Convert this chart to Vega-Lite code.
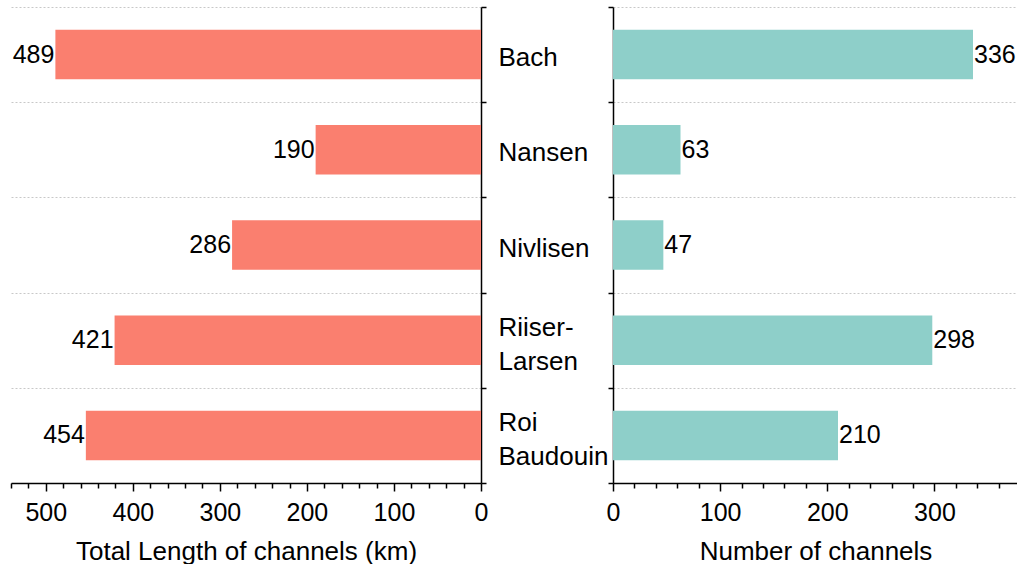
{
  "$schema": "https://vega.github.io/schema/vega-lite/v6.json",
  "padding": {"left": 10, "top": -6, "right": 0, "bottom": 0},
  "background": "white",
  "data": {"values": [
    {"shelf": "Bach", "length": 489, "count": 336},
    {"shelf": "Nansen", "length": 190, "count": 63},
    {"shelf": "Nivlisen", "length": 286, "count": 47},
    {"shelf": "Riiser-Larsen", "length": 421, "count": 298},
    {"shelf": "Roi Baudouin", "length": 454, "count": 210}
  ]},
  "spacing": 132,
  "bounds": "flush",
  "config": {
    "view": {"stroke": null},
    "font": "Liberation Sans",
    "axis": {
      "domainColor": "black", "domainWidth": 1.5,
      "tickColor": "black", "tickWidth": 1.5,
      "labelColor": "black", "labelFont": "Liberation Sans", "labelFontSize": 25,
      "titleColor": "black", "titleFont": "Liberation Sans", "titleFontSize": 26, "titleFontWeight": "normal",
      "gridColor": "#c8c8c8", "gridDash": [2, 2], "gridWidth": 1
    }
  },
  "hconcat": [
    {
      "width": 470, "height": 476,
      "encoding": {
        "y": {"field": "shelf", "type": "nominal", "sort": null,
          "scale": {"paddingInner": 0, "paddingOuter": 0},
          "axis": {"orient": "right", "title": null, "labels": false, "tickBand": "extent", "tickSize": 5, "grid": true}},
        "x": {"field": "length", "type": "quantitative",
          "scale": {"domain": [0, 540], "reverse": true, "nice": false},
          "axis": {"title": "Total Length of channels (km)", "grid": false,
            "values": [0,20,40,60,80,100,120,140,160,180,200,220,240,260,280,300,320,340,360,380,400,420,440,460,480,500,520,540],
            "labelExpr": "datum.value % 100 === 0 ? datum.label : ''",
            "tickSize": {"condition": {"test": "datum.value % 100 === 0", "value": 8}, "value": 5},
            "labelPadding": 9, "titlePadding": 13, "labelFlush": false, "labelOverlap": false}}
      },
      "layer": [
        {"mark": {"type": "bar", "color": "#FA7F6F", "height": {"band": 0.52}}},
        {"mark": {"type": "text", "align": "right", "baseline": "middle", "dx": -1, "fontSize": 25, "color": "black", "font": "Liberation Sans"},
         "encoding": {"text": {"field": "length", "type": "quantitative"}}}
      ]
    },
    {
      "width": 405, "height": 476,
      "encoding": {
        "y": {"field": "shelf", "type": "nominal", "sort": null,
          "scale": {"paddingInner": 0, "paddingOuter": 0},
          "axis": {"orient": "left", "title": null, "tickBand": "extent", "tickSize": 5, "grid": true,
            "labelAlign": "left", "labelPadding": 110, "labelFontSize": 26, "labelLineHeight": 34,
            "labelOffset": {"condition": {"test": "datum.value == 'Riiser-Larsen' || datum.value == 'Roi Baudouin'", "value": -13}, "value": 3},
            "labelExpr": "datum.label == 'Riiser-Larsen' ? ['Riiser-', 'Larsen'] : datum.label == 'Roi Baudouin' ? ['Roi', 'Baudouin'] : datum.label"}},
        "x": {"field": "count", "type": "quantitative",
          "scale": {"domain": [0, 378], "nice": false},
          "axis": {"title": "Number of channels", "grid": false,
            "values": [0,20,40,60,80,100,120,140,160,180,200,220,240,260,280,300,320,340,360],
            "labelExpr": "datum.value % 100 === 0 ? datum.label : ''",
            "tickSize": {"condition": {"test": "datum.value % 100 === 0", "value": 8}, "value": 5},
            "labelPadding": 9, "titlePadding": 13, "labelFlush": false, "labelOverlap": false}}
      },
      "layer": [
        {"mark": {"type": "bar", "color": "#8ECFC9", "height": {"band": 0.52}}},
        {"mark": {"type": "text", "align": "left", "baseline": "middle", "dx": 1, "fontSize": 25, "color": "black", "font": "Liberation Sans"},
         "encoding": {"text": {"field": "count", "type": "quantitative"}}}
      ]
    }
  ]
}
